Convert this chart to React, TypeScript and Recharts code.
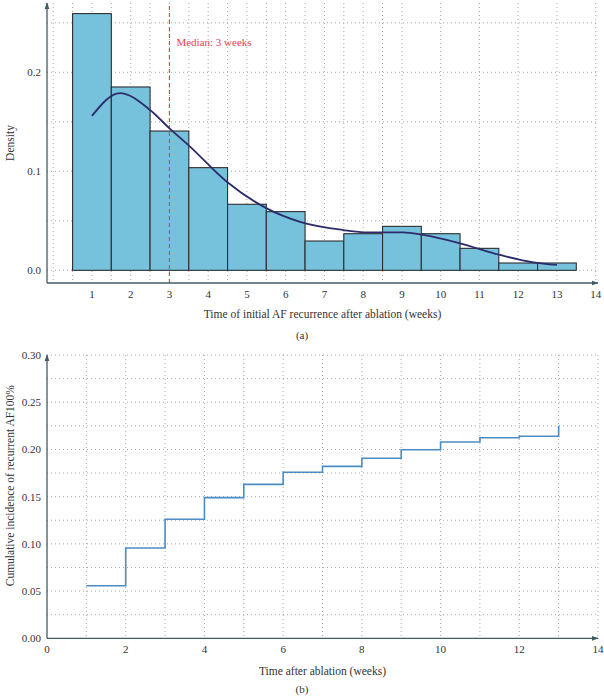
import React from 'react';
import {
  ComposedChart,
  LineChart,
  Bar,
  Line,
  XAxis,
  YAxis,
  CartesianGrid,
  ReferenceLine,
} from 'recharts';

// (a) histogram of first recurrence week, density scale
const weeks = [1, 2, 3, 4, 5, 6, 7, 8, 9, 10, 11, 12, 13];
const densities = [0.2593, 0.1852, 0.1407, 0.1037, 0.0667, 0.0593, 0.0296, 0.037, 0.0444, 0.037, 0.0222, 0.0074, 0.0074];

// kernel density fit over the histogram
const fitWeeks = [1.0, 1.72, 2.5, 3.0, 3.53, 4.48, 5.51, 6.37, 7.49, 8.09, 9.03, 9.55, 10.5, 11.53, 12.39, 13.0];
const fitDensity = [0.156, 0.179, 0.162, 0.1434, 0.125, 0.0895, 0.0626, 0.049, 0.0407, 0.0384, 0.0384, 0.0357, 0.0273, 0.0155, 0.008, 0.0054];

const histTicksX = [1, 2, 3, 4, 5, 6, 7, 8, 9, 10, 11, 12, 13, 14];
const histTicksY = [0, 0.1, 0.2];
const histGridX = [0, 0.5, 1, 1.5, 2, 2.5, 3, 3.5, 4, 4.5, 5, 5.5, 6, 6.5, 7, 7.5, 8, 8.5, 9, 9.5, 10, 10.5, 11, 11.5, 12, 12.5, 13, 13.5, 14];
const histGridY = [0, 0.05, 0.1, 0.15, 0.2, 0.25];
const medianWeek = 3;

// (b) cumulative incidence by week
const stepWeeks = [1, 2, 3, 4, 5, 6, 7, 8, 9, 10, 11, 12, 13];
const cumIncidence = [0.0557, 0.0956, 0.126, 0.149, 0.163, 0.1758, 0.1821, 0.1906, 0.1997, 0.2079, 0.2124, 0.2139, 0.2251];

const cumTicksX = [0, 2, 4, 6, 8, 10, 12, 14];
const cumTicksY = [0, 0.05, 0.1, 0.15, 0.2, 0.25, 0.3];
const cumGridX = [1, 2, 3, 4, 5, 6, 7, 8, 9, 10, 11, 12, 13, 14];
const cumGridY = [0.025, 0.05, 0.075, 0.1, 0.125, 0.15, 0.175, 0.2, 0.225, 0.25, 0.275, 0.3];

const FONT = '"Liberation Serif", "DejaVu Serif", serif';
const AXIS = '#3f5d62';
const GRID = '#a9a9a9';
const tickStyle = { fontFamily: FONT, fontSize: 11, fill: '#333' };

// histogram plot: 604 wide, 47px y-axis, 6px right margin
const HIST_W = 604;
const HIST_LEFT = 47;
const HIST_RIGHT = 6;
const histDomainX: [number, number] = [-0.16, 14.06];
// one-week bin width in pixels, so bars touch edge to edge
const binPx = (HIST_W - HIST_LEFT - HIST_RIGHT) / (histDomainX[1] - histDomainX[0]);

const histData = weeks.map((w, i) => ({ week: w, density: densities[i] }));
const fitData = fitWeeks.map((w, i) => ({ week: w, fit: fitDensity[i] }));
const stepData = stepWeeks.map((w, i) => ({ week: w, cum: cumIncidence[i] }));

// number axes give bars no band width, so widen each bar around its own centre
function BinRect(props: any) {
  const { x, y, width, height } = props;
  const cx = x + width / 2;
  return <rect x={cx - binPx / 2} y={y} width={binPx} height={height} fill="#76c1dc" stroke="#2e2e2e" strokeWidth={1.1} />;
}

function ArrowDefs({ id }: { id: string }) {
  return (
    <defs>
      <marker id={id} viewBox="0 0 10 10" refX="9" refY="5" markerWidth="7" markerHeight="7" orient="auto-start-reverse" markerUnits="userSpaceOnUse">
        <path d="M0,1.5 L10,5 L0,8.5 z" fill={AXIS} />
      </marker>
    </defs>
  );
}

function yTitle(text: string, x: number, shift = 0) {
  return (props: any) => {
    const vb = props.viewBox;
    const cy = vb.y + vb.height / 2 + shift;
    return (
      <text x={x} y={cy} transform={`rotate(-90, ${x}, ${cy})`} textAnchor="middle" dominantBaseline="central" style={{ fontFamily: FONT, fontSize: 11.5, fill: '#333' }}>
        {text}
      </text>
    );
  };
}

function MedianLabel(props: any) {
  const vb = props.viewBox;
  return (
    <text x={vb.x + 7} y={vb.y + 43} style={{ fontFamily: FONT, fontSize: 11, fill: '#e8424f' }}>
      Median: 3 weeks
    </text>
  );
}

function Caption({ text, top }: { text: string; top: number }) {
  return (
    <div style={{ position: 'absolute', left: 0, width: 604, top, textAlign: 'center', fontFamily: FONT, fontSize: 11, color: '#333' }}>
      {text}
    </div>
  );
}

export default function App() {
  return (
    <div style={{ position: 'absolute', left: 0, top: 0, width: 604, height: 696, background: '#fff', overflow: 'hidden' }}>
      <div style={{ position: 'absolute', left: 0, top: 0 }}>
        <ComposedChart width={HIST_W} height={330} data={histData} margin={{ top: 3, right: HIST_RIGHT, bottom: 0, left: 0 }}>
          <ArrowDefs id="arrowA" />
          <CartesianGrid verticalValues={histGridX} horizontalValues={histGridY} stroke={GRID} strokeDasharray="1 3" />
          <XAxis
            dataKey="week"
            type="number"
            domain={histDomainX}
            ticks={histTicksX}
            allowDataOverflow
            height={47}
            tickLine={false}
            tickSize={0}
            tickMargin={7}
            tick={tickStyle}
            axisLine={{ stroke: AXIS, strokeWidth: 1.3, markerEnd: 'url(#arrowA)' }}
            label={{
              value: 'Time of initial AF recurrence after ablation (weeks)',
              position: 'insideBottom',
              offset: 12,
              style: { fontFamily: FONT, fontSize: 11.5, fill: '#333' },
            }}
          />
          <YAxis
            type="number"
            domain={[-0.0128, 0.27]}
            ticks={histTicksY}
            allowDataOverflow
            width={HIST_LEFT}
            tickLine={false}
            tickSize={0}
            tickMargin={6}
            tick={tickStyle}
            tickFormatter={(v: number) => v.toFixed(1)}
            axisLine={{ stroke: AXIS, strokeWidth: 1.3, markerStart: 'url(#arrowA)' }}
            label={{ content: yTitle('Density', 10) }}
          />
          <Bar dataKey="density" shape={<BinRect />} isAnimationActive={false} />
          <ReferenceLine x={medianWeek} stroke="#e8424f" strokeDasharray="4 3" strokeWidth={1.2} label={<MedianLabel />} />
          <Line data={fitData} dataKey="fit" type="monotone" stroke="#2d2c6b" strokeWidth={1.8} dot={false} isAnimationActive={false} />
        </ComposedChart>
      </div>
      <Caption text="(a)" top={329} />

      <div style={{ position: 'absolute', left: 0, top: 340 }}>
        <LineChart width={604} height={356} data={stepData} margin={{ top: 15, right: 6, bottom: 0, left: 0 }}>
          <ArrowDefs id="arrowB" />
          <CartesianGrid verticalValues={cumGridX} horizontalValues={cumGridY} stroke={GRID} strokeDasharray="1 3" />
          <XAxis
            dataKey="week"
            type="number"
            domain={[0, 14]}
            ticks={cumTicksX}
            height={57.7}
            tickLine={false}
            tickSize={0}
            tickMargin={7}
            tick={tickStyle}
            axisLine={{ stroke: AXIS, strokeWidth: 1.3, markerEnd: 'url(#arrowB)' }}
            label={{
              value: 'Time after ablation (weeks)',
              position: 'insideBottom',
              offset: 21,
              style: { fontFamily: FONT, fontSize: 11.5, fill: '#333' },
            }}
          />
          <YAxis
            type="number"
            domain={[0, 0.3]}
            ticks={cumTicksY}
            width={47}
            tickLine={false}
            tickSize={0}
            tickMargin={6}
            tick={tickStyle}
            tickFormatter={(v: number) => v.toFixed(2)}
            axisLine={{ stroke: AXIS, strokeWidth: 1.3, markerStart: 'url(#arrowB)' }}
            label={{ content: yTitle('Cumulative incidence of recurrent AF100%', 10, -11) }}
          />
          <Line dataKey="cum" type="stepAfter" stroke="#4a8dc6" strokeWidth={1.6} dot={false} isAnimationActive={false} />
        </LineChart>
      </div>
      <Caption text="(b)" top={683} />
    </div>
  );
}
